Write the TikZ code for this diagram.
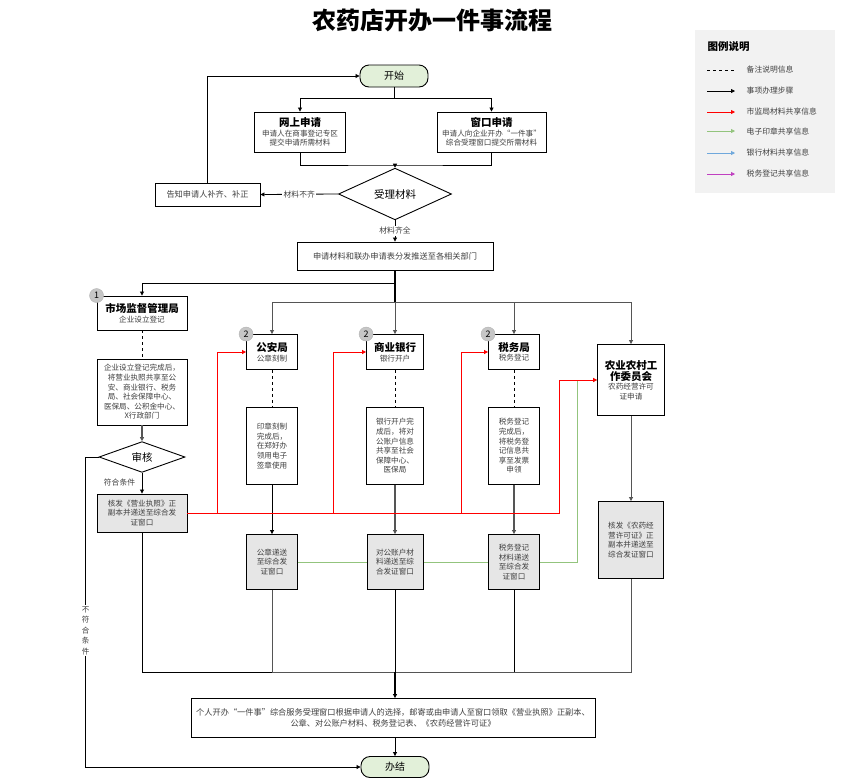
\documentclass[tikz,border=0pt]{standalone}
\usepackage{fontspec}
\setmainfont{Noto Sans CJK SC}
\usepackage{xcolor}
\usetikzlibrary{arrows.meta,shapes.geometric,positioning,calc}
\pgfdeclarelayer{sfondo}
\pgfsetlayers{sfondo,main}
\definecolor{verdeinizio}{HTML}{E2F0D9}
\definecolor{grigiobox}{HTML}{E6E6E6}
\definecolor{grigioleg}{HTML}{F2F2F2}
\definecolor{testo}{HTML}{404040}
\definecolor{rosso}{HTML}{FF0000}
\definecolor{verde}{HTML}{93C47D}
\definecolor{azzurro}{HTML}{6FA8DC}
\definecolor{viola}{HTML}{C040C0}
\definecolor{linea}{HTML}{555555}
\newcommand{\intest}[1]{{\fontsize{10.5}{13}\selectfont\bfseries\color{black}#1}}

\begin{document}
\begin{tikzpicture}[
				x=1pt,y=-1pt,
				box/.style={draw,line width=0.9pt,fill=white,align=center,inner sep=1pt,text=testo,font=\fontsize{7.6}{9.6}\selectfont},
				boxg/.style={box,fill=grigiobox},
				boxl/.style={box,font=\fontsize{8.2}{10.4}\selectfont},
				term/.style={draw,line width=0.9pt,rounded corners=9pt,fill=verdeinizio,minimum width=68pt,minimum height=22pt,font=\fontsize{10}{12}\selectfont},
				rombo/.style={draw,diamond,line width=0.9pt,fill=white,inner sep=0pt,font=\fontsize{10.5}{12}\selectfont},
				badge/.style={circle,fill=gray!45,draw=gray!60,minimum size=14pt,inner sep=0pt,font=\fontsize{9}{9}\selectfont},
				etichetta/.style={fill=white,inner sep=1.5pt,text=testo,font=\fontsize{7.8}{9.8}\selectfont},
				freccia/.style={-{Triangle[length=4pt,width=4pt]},line width=0.8pt},
				rossa/.style={freccia,draw=rosso,line width=1pt},
				verdef/.style={freccia,draw=verde,line width=1pt}
				]
				
				\useasboundingbox (0,0) rectangle (849,780);
				
				% Titolo
				\node[font=\fontsize{24}{28}\selectfont\bfseries] (titolo) at (432,20) {农药店开办一件事流程};
				
				% Legenda
				\node[fill=grigioleg,minimum width=140pt,minimum height=163pt,inner sep=0pt] (legenda) at (765,111.5) {};
				\node[anchor=west,font=\fontsize{10.5}{12}\selectfont\bfseries] (legtit) at (704,47) {图例说明};
				\draw[dashed,line width=0.8pt] (707,70) -- (735,70);
				\node[anchor=west,etichetta,fill=none] (voce70) at (745,70) {备注说明信息};
				\foreach \yy/\col/\txt in {91/black/事项办理步骤,112/rosso/市监局材料共享信息,131/verde/电子印章共享信息,153/azzurro/银行材料共享信息,174/viola/税务登记共享信息}{
					\draw[freccia,draw=\col] (707,\yy) -- (735,\yy);
					\node[anchor=west,etichetta,fill=none] (voce\yy) at (745,\yy) {\txt};
				}
				
				% Avvio e domanda
				\node[term] (inizio) at (394,76) {开始};
				\node[box,minimum width=91pt,minimum height=40pt] (web) at (300,132) {\intest{网上申请}\\申请人在商事登记专区\\提交申请所需材料};
				\node[box,minimum width=109pt,minimum height=40pt] (sportello) at (491.5,132) {\intest{窗口申请}\\申请人向企业开办“一件事”\\综合受理窗口提交所需材料};
				\node[rombo,minimum width=113pt,minimum height=33pt] (accetta) at (395,194) {受理材料};
				\node[boxl,minimum width=105pt,minimum height=23pt] (avviso) at (207.5,194.5) {告知申请人补齐、补正};
				\node[boxl,minimum width=196pt,minimum height=28pt] (invio) at (395,256) {申请材料和联办申请表分发推送至各相关部门};
				\coordinate (unione) at (395,165);
				
				% Dipartimenti
				\node[box,minimum width=90pt,minimum height=34pt] (amr) at (142,313) {\intest{市场监督管理局}\\企业设立登记};
				\node[box,minimum width=51pt,minimum height=35pt] (ga) at (272,352) {\intest{公安局}\\公章刻制};
				\node[box,minimum width=57pt,minimum height=35pt] (banca) at (395,352) {\intest{商业银行}\\银行开户};
				\node[box,minimum width=51pt,minimum height=35pt] (tasse) at (514,352) {\intest{税务局}\\税务登记};
				\node[box,minimum width=67pt,minimum height=71pt] (agri) at (631,380) {\intest{农业农村工}\\\intest{作委员会}\\农药经营许可\\证申请};
				\node[badge] (b1) at (amr.north west) {1};
				\node[badge] (b2) at (ga.north west) {2};
				\node[badge] (b3) at (banca.north west) {2};
				\node[badge] (b4) at (tasse.north west) {2};
				
				% Note
				\node[box,minimum width=90pt,minimum height=66pt] (amrnote) at (142,392) {企业设立登记完成后，\\将营业执照共享至公\\安、商业银行、税务\\局、社会保障中心、\\医保局、公积金中心、\\X行政部门};
				\node[box,minimum width=51pt,minimum height=77pt] (ganote) at (272,446) {印章刻制\\完成后，\\在郑好办\\领用电子\\签章使用};
				\node[box,minimum width=57pt,minimum height=77pt] (bancanote) at (395,446) {银行开户完\\成后，将对\\公账户信息\\共享至社会\\保障中心、\\医保局};
				\node[box,minimum width=51pt,minimum height=77pt] (tassenote) at (514,446) {税务登记\\完成后，\\将税务登\\记信息共\\享至发票\\申领};
				\node[rombo,minimum width=86pt,minimum height=22pt] (esame) at (142,457) {审核};
				
				% Consegna
				\node[boxg,minimum width=90pt,minimum height=38pt] (licenza) at (142,513) {核发《营业执照》正\\副本并递送至综合发\\证窗口};
				\node[boxg,minimum width=51pt,minimum height=55pt] (timbro) at (272,562) {公章递送\\至综合发\\证窗口};
				\node[boxg,minimum width=56pt,minimum height=55pt] (conto) at (395,562) {对公账户材\\料递送至综\\合发证窗口};
				\node[boxg,minimum width=51pt,minimum height=55pt] (tassemat) at (514,562) {税务登记\\材料递送\\至综合发\\证窗口};
				\node[boxg,minimum width=65pt,minimum height=77pt] (agrilic) at (631,540) {核发《农药经\\营许可证》正\\副本并递送至\\综合发证窗口};
				\node[boxl,minimum width=404pt,minimum height=39pt] (finale) at (393,718) {个人开办“一件事”综合服务受理窗口根据申请人的选择，邮寄或由申请人至窗口领取《营业执照》正副本、\\公章、对公账户材料、税务登记表、《农药经营许可证》};
				\node[term,minimum height=21pt] (fine) at (395,767) {办结};
				\coordinate (raccolta) at (395,672);
				\coordinate (d1) at (395,283);
				\coordinate (d2) at (395,302);
				
				% Connessioni
				\draw[freccia] (inizio.south) -- ++(0,11) -| (web.north);
				\draw[freccia] (inizio.south) -- ++(0,11) -| (sportello.north);
				\draw[line width=0.8pt] (web.south) |- (unione) -| (sportello.south);
				\draw[freccia] (unione) -- (accetta.north);
				\draw[freccia] (accetta.west) -- node[etichetta]{材料不齐} (avviso.east);
				\draw[freccia] (avviso.north) |- (inizio.west);
				\draw[freccia] (accetta.south) -- node[etichetta]{材料齐全} (invio.north);
				\draw[line width=1.6pt] (invio.south) -- (d2);
				\draw[freccia] (d1) -| (amr.north);
				\draw[freccia,draw=linea] (d2) -| (ga.north);
				\draw[freccia,draw=linea] (d2) -- (banca.north);
				\draw[freccia,draw=linea] (d2) -| (tasse.north);
				\draw[freccia,draw=linea] (d2) -| (agri.north);
				
				\draw[dashed,line width=0.8pt] (amr.south) -- (amrnote.north);
				\draw[dashed,line width=0.8pt] (ga.south) -- (ganote.north);
				\draw[dashed,line width=0.8pt] (banca.south) -- (bancanote.north);
				\draw[dashed,line width=0.8pt] (tasse.south) -- (tassenote.north);
				
				\draw[freccia,draw=linea,line width=1.2pt] (amrnote.south) -- (esame.north);
				\draw[freccia] (esame.south) -- node[etichetta,fill=none,left=5pt,pos=0.45]{符合条件} (licenza.north);
				\draw[freccia] (esame.west) -- ++(-13,0) |- node[etichetta,pos=0.28,align=center,font=\fontsize{7.6}{10.4}\selectfont]{不\\符\\合\\条\\件} (fine.west);
				\draw[freccia] (ganote.south) -- (timbro.north);
				\draw[freccia,draw=linea,line width=1.2pt] (bancanote.south) -- (conto.north);
				\draw[freccia,draw=linea,line width=1.2pt] (tassenote.south) -- (tassemat.north);
				\draw[freccia,draw=linea] (agri.south) -- (agrilic.north);
				
				% Condivisione dati
				\draw[rossa] (licenza.east) -- ++(30,0) |- (ga.west);
				\draw[rossa] (licenza.east) -- ++(146,0) |- (banca.west);
				\draw[rossa] (licenza.east) -- ++(274,0) |- (tasse.west);
				\draw[rossa] (licenza.east) -- ++(372,0) |- (agri.west);
				\begin{pgfonlayer}{sfondo}
					\draw[verdef] (timbro.east) -- ++(280,0) |- (agri.west);
				\end{pgfonlayer}
				
				% Ritiro
				\draw[line width=0.8pt] (licenza.south) |- (raccolta);
				\draw[line width=0.8pt,draw=linea] (timbro.south) |- (raccolta);
				\draw[line width=0.8pt] (tassemat.south) |- (raccolta);
				\draw[line width=0.8pt,draw=linea] (agrilic.south) |- (raccolta);
				\draw[line width=0.8pt] (conto.south) -- (raccolta);
				\draw[freccia,line width=2pt] (raccolta) -- (finale.north -| raccolta);
				\draw[freccia] (finale.south -| fine.north) -- (fine.north);
				
			\end{tikzpicture}
\end{document}
